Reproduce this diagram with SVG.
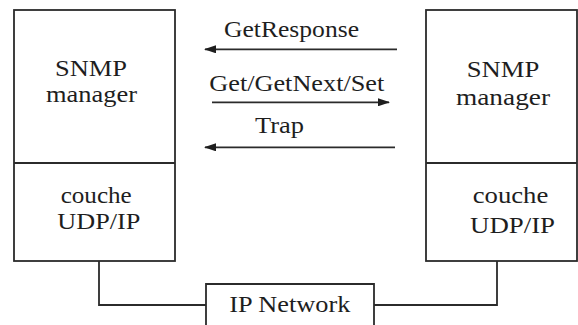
<svg xmlns="http://www.w3.org/2000/svg" width="578" height="325" viewBox="0 0 578 325">
<style>
.box{fill:none;stroke:#2b2b2b;stroke-width:1.8}
.ln{fill:none;stroke:#2b2b2b;stroke-width:1.8}
text{font-family:"Liberation Serif",Tinos,"Times New Roman",Times,"Noto Serif","DejaVu Serif",FreeSerif,serif;font-size:24px;fill:#1e1e1e}
</style>
<defs>
<marker id="ah" viewBox="0 0 12 8" refX="11" refY="4" markerWidth="12" markerHeight="8" markerUnits="userSpaceOnUse" orient="auto">
<path d="M0,0 L12,4 L0,8 Z" fill="#1e1e1e"/>
</marker>
</defs>
<rect width="578" height="325" fill="#ffffff"/>
<g id="connectors">
<polyline class="ln" points="99,261 99,305 206,305"/>
<polyline class="ln" points="497,261 497,305 374,305"/>
<line class="ln" x1="397" y1="49.3" x2="205" y2="49.3" marker-end="url(#ah)"/>
<line class="ln" x1="212" y1="102.3" x2="389" y2="102.3" marker-end="url(#ah)"/>
<line class="ln" x1="395" y1="147.3" x2="205" y2="147.3" marker-end="url(#ah)"/>
<text x="224" y="37" textLength="135" lengthAdjust="spacingAndGlyphs">GetResponse</text>
<text x="209.3" y="90.7" textLength="175" lengthAdjust="spacingAndGlyphs">Get/GetNext/Set</text>
<text x="255" y="133" textLength="49" lengthAdjust="spacingAndGlyphs">Trap</text>
</g>
<g id="left-manager">
<rect class="box" x="14" y="10" width="161" height="251"/>
<line class="ln" x1="14" y1="163" x2="175" y2="163"/>
<text x="55" y="76" textLength="72" lengthAdjust="spacingAndGlyphs">SNMP</text>
<text x="46" y="102" textLength="91" lengthAdjust="spacingAndGlyphs">manager</text>
<text x="60.7" y="203" textLength="71" lengthAdjust="spacingAndGlyphs">couche</text>
<text x="57.3" y="229" textLength="83" lengthAdjust="spacingAndGlyphs">UDP/IP</text>
</g>
<g id="right-manager">
<rect class="box" x="426" y="10" width="151" height="251"/>
<line class="ln" x1="426" y1="163" x2="577" y2="163"/>
<text x="466.7" y="77" textLength="72.6" lengthAdjust="spacingAndGlyphs">SNMP</text>
<text x="456" y="105" textLength="94" lengthAdjust="spacingAndGlyphs">manager</text>
<text x="472.7" y="203" textLength="75.6" lengthAdjust="spacingAndGlyphs">couche</text>
<text x="470" y="233" textLength="85" lengthAdjust="spacingAndGlyphs">UDP/IP</text>
</g>
<g id="ip-network">
<polyline class="box" points="206,326 206,284 374,284 374,326"/>
<text x="229.3" y="311.5" textLength="121" lengthAdjust="spacingAndGlyphs">IP Network</text>
</g>
</svg>
